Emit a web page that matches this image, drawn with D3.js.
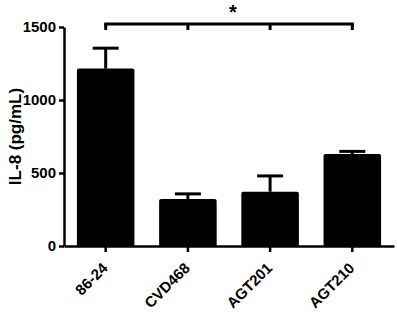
<!DOCTYPE html>
<html>
<head>
<meta charset="utf-8">
<script src="https://cdn.jsdelivr.net/npm/d3@7"></script>
<style>
  body { margin: 0; background: #fff; }
  svg { display: block; font-family: "Liberation Sans", Arial, Helvetica, sans-serif; }
</style>
</head>
<body>
<div id="chart"></div>
<script>
// data
const strains = ["86-24", "CVD468", "AGT201", "AGT210"];
const means = [1215, 322, 372, 630];
const sems = [140, 35, 108, 18];
const yTicks = [0, 500, 1000, 1500];
const sigStar = "*";

const W = 397, H = 312;

const svg = d3.select("#chart").append("svg")
    .attr("width", W).attr("height", H);

const y = d3.scaleLinear().domain([0, 1500]).range([246, 27]);
const x = d3.scaleBand().domain(strains).range([64, 394])
    .paddingInner(0.3).paddingOuter(0.157);

// bars
svg.selectAll("rect.bar").data(strains).join("rect")
    .attr("class", "bar")
    .attr("x", d => x(d))
    .attr("width", x.bandwidth())
    .attr("y", (d, i) => y(means[i]))
    .attr("height", (d, i) => y(0) - y(means[i]) + 1)
    .attr("rx", 2)
    .attr("fill", "#000");

// error bars (upper only)
const cx = d => x(d) + x.bandwidth() / 2;
const capW = 26;
svg.selectAll("line.err").data(strains).join("line")
    .attr("x1", cx).attr("x2", cx)
    .attr("y1", (d, i) => y(means[i]))
    .attr("y2", (d, i) => y(means[i] + sems[i]))
    .attr("stroke", "#000").attr("stroke-width", 3);
svg.selectAll("line.cap").data(strains).join("line")
    .attr("x1", d => cx(d) - capW / 2).attr("x2", d => cx(d) + capW / 2)
    .attr("y1", (d, i) => y(means[i] + sems[i]))
    .attr("y2", (d, i) => y(means[i] + sems[i]))
    .attr("stroke", "#000").attr("stroke-width", 3);

// y axis
const yAxis = svg.append("g")
    .attr("transform", "translate(64,0)")
    .call(d3.axisLeft(y).tickValues(yTicks).tickFormat(d3.format("d"))
        .tickSize(5).tickPadding(3).tickSizeOuter(0));
yAxis.select(".domain").attr("stroke-width", 2.5);
yAxis.selectAll(".tick line").attr("stroke-width", 2.5);
yAxis.selectAll("text")
    .attr("font-size", 15).attr("font-weight", "bold")
    .attr("font-family", "Liberation Sans, Arial, sans-serif")
    .attr("fill", "#000");

// x axis
const xAxis = svg.append("g")
    .attr("transform", `translate(0,${y(0)})`)
    .call(d3.axisBottom(x).tickSize(6).tickSizeOuter(0));
xAxis.select(".domain").attr("stroke-width", 2.5);
xAxis.selectAll(".tick line").attr("stroke-width", 2.5);
xAxis.selectAll("text")
    .attr("font-size", 15).attr("font-weight", "bold")
    .attr("font-family", "Liberation Sans, Arial, sans-serif")
    .attr("fill", "#000")
    .attr("text-anchor", "end")
    .attr("dy", null)
    .attr("y", 0)
    .attr("transform", "translate(3,23) rotate(-45)");

// y title
svg.append("text")
    .attr("transform", `translate(21,${(y(0) + y(1500)) / 2}) rotate(-90)`)
    .attr("text-anchor", "middle")
    .attr("font-size", 17).attr("font-weight", "bold")
    .text("IL-8 (pg/mL)");

// significance bracket
const by = 24;
const bracket = svg.append("g").attr("stroke", "#000").attr("stroke-width", 3).attr("fill", "none");
bracket.append("line")
    .attr("x1", cx(strains[0]) - 1.5).attr("x2", cx(strains[3]) + 1.5)
    .attr("y1", by).attr("y2", by);
bracket.selectAll("line.tk").data(strains).join("line")
    .attr("class", "tk")
    .attr("x1", cx).attr("x2", cx)
    .attr("y1", by).attr("y2", by + 6);
svg.append("text")
    .attr("x", (cx(strains[0]) + cx(strains[3])) / 2 + 4)
    .attr("y", 19)
    .attr("text-anchor", "middle")
    .attr("font-size", 20).attr("font-weight", "bold")
    .text(sigStar);
</script>
</body>
</html>
